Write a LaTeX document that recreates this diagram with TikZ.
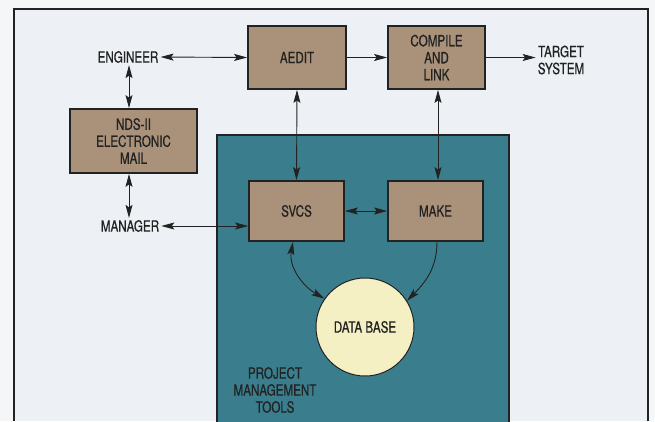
\documentclass[tikz,border=0pt]{standalone}
\usepackage{fontspec}
\setmainfont{TeX Gyre Heros}[FakeStretch=0.75,FakeBold=0.6]
\usetikzlibrary{arrows.meta}
\definecolor{paper}{HTML}{F5F6F7}
\definecolor{panel}{HTML}{EDF1F6}
\definecolor{teal}{HTML}{3A7E8E}
\definecolor{tan}{HTML}{AA927A}
\definecolor{dbfill}{HTML}{F4F0C4}
\definecolor{ink}{HTML}{222222}
\tikzset{
  txt/.style={font=\fontsize{15.5}{17}\selectfont, text=ink},
  box/.style={draw=ink, line width=1.8pt, fill=tan, align=center, inner sep=0pt, txt},
  lbl/.style={align=center, inner sep=2pt, txt},
  conn/.style={draw=ink, line width=0.9pt},
  tip/.style={-{Stealth[length=13pt,width=7pt,inset=2.5pt]}},
  tips/.style={{Stealth[length=13pt,width=7pt,inset=2.5pt]}-{Stealth[length=13pt,width=7pt,inset=2.5pt]}},
}
\begin{document}
\begin{tikzpicture}[x=1pt,y=-1pt]
\useasboundingbox (0,0) rectangle (655,421);
\fill[paper] (0,0) rectangle (655,421);
\fill[panel] (14,9) rectangle (648,421);
\draw[ink, line width=1.5pt] (14,421) -- (14,9) -- (648,9) -- (648,421);
\draw[ink, line width=1.5pt, fill=teal] (217,424) -- (217,135) -- (509,135) -- (509,424);

\node[box, minimum width=98pt, minimum height=63pt] (aedit) at (297,57.5) {AEDIT};
\node[box, minimum width=97pt, minimum height=63pt] (compile) at (436.5,57.5) {COMPILE\\AND\\LINK};
\node[box, minimum width=127pt, minimum height=64pt] (nds) at (133.5,141) {NDS-II\\ELECTRONIC\\MAIL};
\node[box, minimum width=95pt, minimum height=60pt] (svcs) at (296.5,211) {SVCS};
\node[box, minimum width=95pt, minimum height=60pt] (make) at (435.5,211) {MAKE};
\node[circle, draw=ink, line width=1pt, fill=dbfill, minimum size=98pt, inner sep=0pt, txt] (db) at (365,327) {DATA BASE};

\node[lbl] (engineer) at (128,57) {ENGINEER};
\node[lbl] (manager) at (130,226) {MANAGER};
\node[lbl] (target) at (561,60) {TARGET\\SYSTEM};
\node[lbl] (pmt) at (275,390) {PROJECT\\MANAGEMENT\\TOOLS};

\draw[conn, tips] (engineer.east) -- (aedit.west);
\draw[conn, tip] (aedit.east) -- (compile.west);
\draw[conn, tip] (compile.east) -- (compile.east -| target.west);
\draw[conn, tips] (engineer.south -| 129,0) -- (nds.north -| 129,0);
\draw[conn, tips] (nds.south -| 129,0) -- (manager.north -| 129,0);
\draw[conn, tips] (manager.east) -- (svcs.west |- manager.east);
\draw[conn, tips] (aedit.south) -- (svcs.north);
\draw[conn, tips] (compile.south -| 438,0) -- (make.north -| 438,0);
\draw[conn, tips] (svcs.east) -- (make.west);
\draw[conn, tips] (svcs.south -| 293,0) to[out=-100,in=150] (db.145);
\draw[conn, tip] (make.south -| 437,0) to[out=-90,in=45] (db.32);
\end{tikzpicture}
\end{document}
